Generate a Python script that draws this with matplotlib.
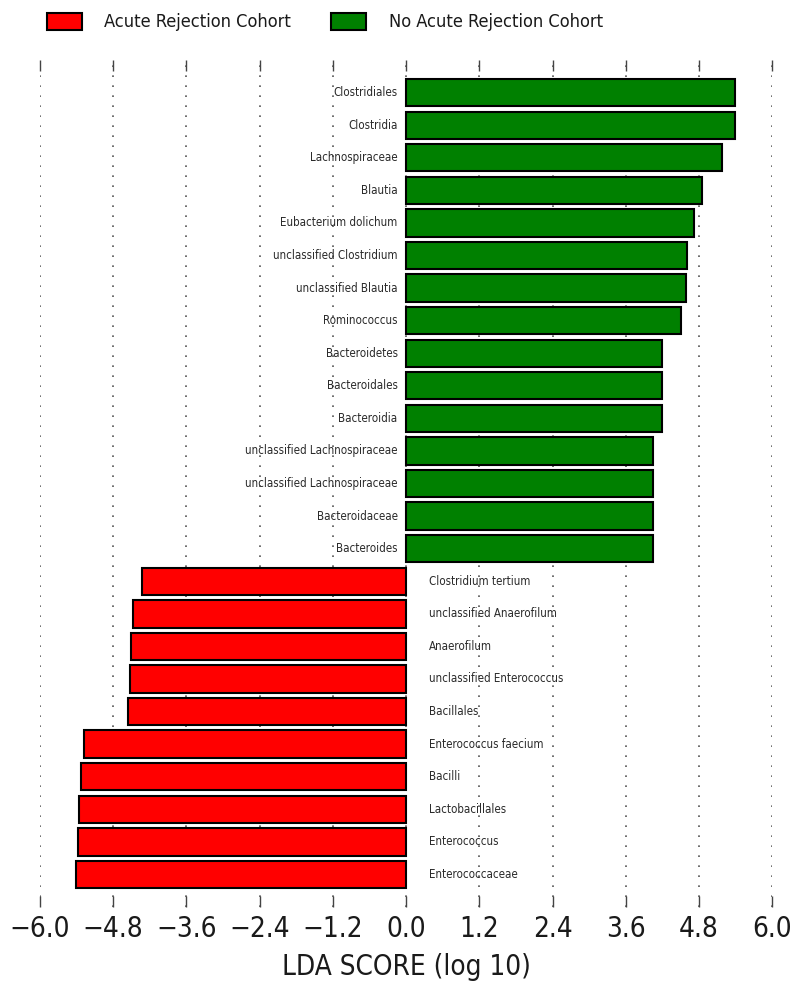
import matplotlib
matplotlib.use('Agg')
import numpy as np
import matplotlib.pyplot as plt
from matplotlib import font_manager
from matplotlib.patches import Patch

# LDA effect sizes, listed from the top bar down
green_taxa = ['Clostridiales', 'Clostridia', 'Lachnospiraceae', 'Blautia',
              'Eubacterium dolichum', 'unclassified Clostridium', 'unclassified Blautia',
              'Rominococcus', 'Bacteroidetes', 'Bacteroidales', 'Bacteroidia',
              'unclassified Lachnospiraceae', 'unclassified Lachnospiraceae',
              'Bacteroidaceae', 'Bacteroides']
green_lda = [5.39, 5.39, 5.18, 4.85, 4.71, 4.60, 4.58, 4.50, 4.20, 4.20, 4.20,
             4.05, 4.05, 4.04, 4.04]

red_taxa = ['Clostridium tertium', 'unclassified Anaerofilum', 'Anaerofilum',
            'unclassified Enterococcus', 'Bacillales', 'Enterococcus faecium',
            'Bacilli', 'Lactobacillales', 'Enterococcus', 'Enterococcaceae']
red_lda = [-4.32, -4.47, -4.51, -4.53, -4.56, -5.27, -5.33, -5.36, -5.38, -5.40]

ticks = [-6.0, -4.8, -3.6, -2.4, -1.2, 0.0, 1.2, 2.4, 3.6, 4.8, 6.0]

# use a condensed face when the system has one
condensed = [f for f in font_manager.fontManager.ttflist
             if 'condensed' in f.fname.lower() or 'narrow' in f.fname.lower()]
cond_names = sorted({f.name for f in condensed if 'Sans' in f.name})
face = cond_names[0] if cond_names else 'Liberation Sans'
plt.rcParams['font.family'] = [face, 'DejaVu Sans']
plt.rcParams['font.stretch'] = 'condensed'

taxa = green_taxa + red_taxa
scores = green_lda + red_lda
colors = ['#008000'] * len(green_lda) + ['#ff0000'] * len(red_lda)
pos = np.arange(len(taxa))[::-1]

fig = plt.figure(figsize=(7.97, 9.86), dpi=100)
ax = fig.add_axes([0.050, 0.0801, 0.919, 0.859])

ax.barh(pos, scores, height=0.84, color=colors, edgecolor='black', linewidth=1.5, zorder=3)

for y, name, v in zip(pos, taxa, scores):
    if v > 0:
        ax.text(-0.14, y, name, ha='right', va='center', fontsize=8.3,
                color='#2a2a2a', zorder=4)
    else:
        ax.text(0.38, y, name, ha='left', va='center', fontsize=8.3,
                color='#2a2a2a', zorder=4)

ax.set_xlim(-6.0, 6.0)
ax.set_ylim(-1.0, len(taxa))
ax.set_xticks(ticks)
ax.set_xticklabels(['%.1f' % t if t >= 0 else '\u2212%.1f' % abs(t) for t in ticks],
                   fontsize=20, color='#1a1a1a')
ax.set_yticks([])
ax.tick_params(axis='x', direction='in', length=8, width=1, color='#444444',
               top=True, bottom=True, pad=6)
ax.xaxis.grid(True, linestyle=(0, (1, 5)), color='#555555', linewidth=1.2, zorder=0)
for s in ax.spines.values():
    s.set_visible(False)
ax.set_xlabel('LDA SCORE (log 10)', fontsize=20, labelpad=7, color='#1a1a1a')

handles = [Patch(facecolor='#ff0000', edgecolor='black', linewidth=1.5,
                 label='Acute Rejection Cohort'),
           Patch(facecolor='#008000', edgecolor='black', linewidth=1.5,
                 label='No Acute Rejection Cohort')]
leg = fig.legend(handles=handles, loc='upper left', bbox_to_anchor=(0.059, 0.987), ncol=2,
                 frameon=False, handlelength=1.9, handleheight=1.05,
                 columnspacing=2.2, handletextpad=1.25, borderpad=0, borderaxespad=0,
                 prop={'weight': 'medium', 'size': 13.1})
for t in leg.get_texts():
    t.set_color('#1a1a1a')

fig.savefig('out.png', dpi=100)
